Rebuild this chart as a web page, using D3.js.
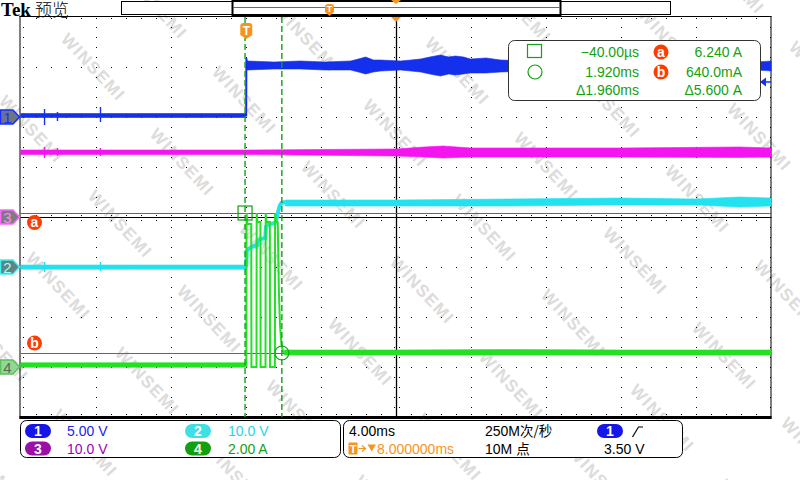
<!DOCTYPE html>
<html><head><meta charset="utf-8">
<script src="https://cdn.jsdelivr.net/npm/d3@7"></script>
<style>body{margin:0;background:#fff}svg{display:block}</style>
</head><body>
<svg id="c" width="800" height="480"></svg>
<script>
// ================= DATA =================
const timeDomain = [-12, 28];          // ms (4 ms/div, trigger at 0, 8 ms to centre)
const divDomain = [-4, 4];
const chNames = ["1", "2", "3", "4"];
const chPerDiv = [5, 10, 10, 2];        // units per division
const chOffsetDiv = [2, -1, 0, -3];     // channel position (div)
const chUnits = ["V", "V", "V", "A"];

// CH1 (V)
const ch1PreT = [-12, -6, 0.02];
const ch1PreLo = [-0.05, -0.05, -0.05];
const ch1PreHi = [0.35, 0.35, 0.35];
const ch1SpikeT = [-10.72, -10.03, -7.74];
const ch1SpikeLo = [-0.8, -0.4, -0.5];
const ch1SpikeHi = [0.8, 0.5, 1.0];
const ch1EdgeT = [0.02, 0.03, 0.06];
const ch1EdgeV = [0.1, 5.9, 5.3];
const ch1PostT = [0.04, 1.5, 2.91, 4.2, 5.58, 6.0, 6.38, 6.8, 7.18, 8.24, 8.8, 9.31, 9.8, 10.37, 10.8, 11.17, 11.6, 11.97, 12.8, 13.57, 15, 16.23, 17.5, 18.89, 20.2, 21.56, 23, 24.22, 25.3, 26.35, 27.2, 28.0];
const ch1PostHi = [5.6, 5.5, 5.6, 5.5, 5.6, 5.8, 6.0, 5.7, 5.7, 5.6, 5.7, 5.8, 6.0, 6.2, 6.0, 6.1, 6.0, 5.8, 5.9, 5.7, 5.6, 5.6, 5.7, 5.6, 5.5, 5.5, 5.6, 5.5, 5.6, 5.6, 5.5, 5.6];
const ch1PostLo = [4.7, 4.8, 4.8, 4.7, 4.7, 4.5, 4.3, 4.5, 4.6, 4.7, 4.6, 4.5, 4.3, 4.1, 4.3, 4.2, 4.3, 4.4, 4.4, 4.5, 4.6, 4.6, 4.7, 4.7, 4.6, 4.7, 4.7, 4.7, 4.6, 4.6, 4.7, 4.6];

// CH3 (V)
const ch3T = [-12, 0, 8, 9.5, 10.5, 12, 20, 26.3, 28];
const ch3Hi = [13.4, 13.4, 13.6, 14.0, 14.2, 13.8, 13.8, 14.0, 13.8];
const ch3Lo = [12.5, 12.5, 12.2, 12.0, 11.8, 12.0, 12.0, 11.9, 12.0];
const ch3SpikeT = [-10.72, -10.03, -7.74];
const ch3SpikeLo = [11.8, 12.2, 12.2];
const ch3SpikeHi = [14.0, 13.8, 13.8];

// CH2 (V)
const ch2PreT = [-12, -6, 0.02];
const ch2PreLo = [-0.46, -0.46, -0.46];
const ch2PreHi = [0.4, 0.4, 0.4];
const ch2SpikeT = [-10.72, -7.74];
const ch2SpikeLo = [-1.0, -0.8];
const ch2SpikeHi = [1.0, 1.0];
const ch2TransT = [0.02, 0.05, 0.15, 0.29, 0.45, 0.60, 0.64, 0.80, 1.04, 1.07, 1.15, 1.30, 1.55, 1.62, 1.72, 1.80, 1.90, 2.10];
const ch2TransV = [0, 3.2, 3.6, 4.0, 4.2, 4.4, 5.2, 5.6, 5.8, 8.0, 8.4, 8.6, 8.8, 9.4, 11.0, 12.2, 12.8, 13.0];
const ch2PostT = [2.1, 8, 14, 20, 24, 26.3, 28];
const ch2PostHi = [13.4, 13.4, 13.6, 13.8, 13.6, 14.0, 13.8];
const ch2PostLo = [12.2, 12.2, 12.2, 12.4, 12.4, 12.0, 12.2];

// CH4 (A)
const ch4PreT = [-12, -6, 0.03];
const ch4PreLo = [-0.01, -0.01, -0.01];
const ch4PreHi = [0.17, 0.17, 0.17];
const ch4TransT = [0.03, 0.04, 0.08, 0.29, 0.30, 0.57, 0.58, 0.62, 0.78, 0.79, 1.05, 1.06, 1.10, 1.28, 1.29, 1.55, 1.56, 1.60, 1.70, 1.76, 1.82, 1.90, 1.98, 2.05];
const ch4TransV = [0.04, 6.16, 5.72, 5.72, 0.0, 0.0, 6.16, 5.8, 5.8, 0.0, 0.0, 6.16, 5.8, 5.8, 0.0, 0.0, 6.16, 5.84, 5.8, 3.1, 1.7, 0.9, 0.62, 0.58];
const ch4PostT = [2.05, 8, 14, 20, 28];
const ch4PostHi = [0.68, 0.68, 0.7, 0.68, 0.68];
const ch4PostLo = [0.48, 0.48, 0.48, 0.48, 0.48];

// Cursors
const cursorTimes = [-0.04, 1.92];        // ms
const cursorLevels = [6.16, 0.56];        // A (ch4), a / b
const triggerLevel = 3.5;                 // V ch1

// Readout texts
const readTime = ["\u221240.00\u00b5s", "1.920ms", "\u03941.960ms"];
const readLevel = ["6.240 A", "640.0mA", "\u03945.600 A"];
const chScaleText = ["5.00 V", "10.0 V", "10.0 V", "2.00 A"];
const timebaseText = "4.00ms";
const delayText = "8.000000ms";
const sampleLatin = ["250M", "10M "];
const sampleCJK = ["\u6b21/\u79d2", "\u70b9"];
const trigText = "3.50 V";
const titleText = ["Tek", "\u9884\u89c8"];
const watermarkText = "WINSEMI";

// ================= STYLE =================
const traceCol = ["#1430ec", "#22e2f0", "#f414f0", "#24e024"];
const textCol = ["#2222ee", "#2cd4e4", "#a000bc", "#14a014"];
const pillCol = ["#1616e8", "#3ee0e6", "#9c10a8", "#12a012"];
const markFill = ["#6c7585", "#5f8484", "#7c7c7c", "#92d892"];
const markStroke = ["#1a2cff", "#40f0f0", "#ff66ff", "#5cc05c"];
const markText = ["#1a2cff", "#a0ffff", "#ff88ff", "#5a6a5a"];
const curCol = "#14a014";
const orange = "#f7941d";
const aCol = "#ff3c00";
const FONT = "'Liberation Sans', Arial, sans-serif";
const CJK = "'Noto Sans CJK SC', sans-serif";

// ================= SCALES =================
const svg = d3.select("#c");
const x = d3.scaleLinear().domain(timeDomain).range([20.5, 771.5]);
const yDiv = d3.scaleLinear().domain(divDomain).range([417, 17]);
const yc = i => v => yDiv(chOffsetDiv[i] + v / chPerDiv[i]);
const X0 = x(timeDomain[0]), X1 = x(timeDomain[1]);
const Y0 = yDiv(divDomain[1]), Y1 = yDiv(divDomain[0]);

svg.append("rect").attr("width", 800).attr("height", 480).attr("fill", "#fff");

// ---- watermark ----
svg.append("clipPath").attr("id", "full").append("rect").attr("width", 800).attr("height", 480);
const wm = svg.append("g").attr("clip-path", "url(#full)").attr("fill", "#dcdcdc").attr("font-family", FONT)
  .attr("font-weight", "bold").attr("font-size", 17).attr("letter-spacing", 1.5);
for (let k = -12; k <= 12; k++) for (let j = -12; j <= 12; j++) {
  const sx = 60 + 89 * k + 62 * j, sy = 40 + 95 * k - 62 * j;
  if (sx < -100 || sx > 810 || sy < -100 || sy > 490) continue;
  wm.append("text").attr("transform", `translate(${sx},${sy}) rotate(47)`).text(watermarkText);
}

// ---- graticule ----
const grat = svg.append("g");
const xMajor = d3.range(0, 11).map(i => timeDomain[0] + i * 4);
const xMinor = d3.range(0, 51).map(i => timeDomain[0] + i * 0.8);
const yMajor = d3.range(-4, 5);
const yMinor = d3.range(0, 41).map(i => -4 + i * 0.2);
const dots = [];
xMajor.slice(1, -1).forEach(t => {
  if (t === 8) return;
  yMinor.slice(1, -1).forEach(v => dots.push([Math.round(x(t)), Math.round(yDiv(v))]));
});
yMajor.slice(1, -1).forEach(v => {
  if (v === 0) return;
  xMinor.slice(1, -1).forEach(t => dots.push([Math.round(x(t)), Math.round(yDiv(v))]));
});
yMinor.slice(1, -1).forEach(v => {
  const yy = Math.round(yDiv(v));
  dots.push([Math.round(X0) + 2, yy], [Math.round(X1) - 2, yy], [Math.round(x(8)) - 2, yy], [Math.round(x(8)) + 3, yy]);
});
xMinor.slice(1, -1).forEach(t => {
  const xx = Math.round(x(t));
  dots.push([xx, Math.round(Y0) + 1], [xx, Math.round(Y1) - 3], [xx, Math.round(yDiv(0)) - 2], [xx, Math.round(yDiv(0)) + 3]);
});
grat.selectAll("rect.d").data(dots).join("rect").attr("class", "d")
  .attr("x", d => d[0]).attr("y", d => d[1]).attr("width", 1).attr("height", 1).attr("fill", "#000");
grat.append("line").attr("x1", X0 - 0.5).attr("x2", X0 - 0.5).attr("y1", Y0 - 1).attr("y2", Y1 + 2).attr("stroke", "#000");
grat.append("line").attr("x1", X1 - 0.5).attr("x2", X1 - 0.5).attr("y1", Y0 - 1).attr("y2", Y1 + 2).attr("stroke", "#000");
grat.append("line").attr("x1", X0 - 1).attr("x2", X1).attr("y1", Y0 - 0.5).attr("y2", Y0 - 0.5).attr("stroke", "#000");
grat.append("rect").attr("x", X0 - 1).attr("y", Y1 - 1).attr("width", X1 - X0 + 1).attr("height", 3).attr("fill", "#000");
grat.append("line").attr("x1", x(8) + 0.5).attr("x2", x(8) + 0.5).attr("y1", Y0).attr("y2", Y1).attr("stroke", "#000").attr("stroke-width", 1.3);
grat.append("line").attr("x1", X0).attr("x2", X1).attr("y1", yDiv(0) + 0.5).attr("y2", yDiv(0) + 0.5).attr("stroke", "#000");

// ---- horizontal cursors ----
cursorLevels.forEach(v => {
  svg.append("line").attr("x1", X0).attr("x2", X1).attr("y1", yc(3)(v) + 0.5).attr("y2", yc(3)(v) + 0.5)
    .attr("stroke", curCol).attr("stroke-width", 1.2);
});

// ---- traces ----
svg.append("clipPath").attr("id", "pc").append("rect").attr("x", X0).attr("y", Y0).attr("width", X1 - X0).attr("height", Y1 - Y0);
const tr = svg.append("g").attr("clip-path", "url(#pc)");
function band(i, T, lo, hi) {
  const data = T.map((t, k) => ({ t, lo: lo[k], hi: hi[k] }));
  tr.append("path").attr("d", d3.area().x(d => x(d.t)).y0(d => yc(i)(d.lo)).y1(d => yc(i)(d.hi))(data))
    .attr("fill", traceCol[i]).attr("stroke", traceCol[i]).attr("stroke-width", 0.6);
}
function spikes(i, T, lo, hi) {
  T.forEach((t, k) => tr.append("line").attr("x1", x(t)).attr("x2", x(t))
    .attr("y1", yc(i)(lo[k])).attr("y2", yc(i)(hi[k])).attr("stroke", traceCol[i]).attr("stroke-width", 1.4));
}
function poly(i, T, V, w) {
  tr.append("path").attr("d", d3.line().x(d => x(d[0])).y(d => yc(i)(d[1]))(T.map((t, k) => [t, V[k]])))
    .attr("fill", "none").attr("stroke", traceCol[i]).attr("stroke-width", w).attr("stroke-linejoin", "miter");
}
band(2, ch3T, ch3Lo, ch3Hi); spikes(2, ch3SpikeT, ch3SpikeLo, ch3SpikeHi);
band(1, ch2PreT, ch2PreLo, ch2PreHi); spikes(1, ch2SpikeT, ch2SpikeLo, ch2SpikeHi);
poly(1, ch2TransT, ch2TransV, 4);
band(1, ch2PostT, ch2PostLo, ch2PostHi);
band(3, ch4PreT, ch4PreLo, ch4PreHi);
poly(3, ch4TransT, ch4TransV, 2);
band(3, ch4PostT, ch4PostLo, ch4PostHi);
band(0, ch1PreT, ch1PreLo, ch1PreHi); spikes(0, ch1SpikeT, ch1SpikeLo, ch1SpikeHi);
poly(0, ch1EdgeT, ch1EdgeV, 2);
band(0, ch1PostT, ch1PostLo, ch1PostHi);

// ---- vertical cursors ----
cursorTimes.forEach(t => {
  svg.append("line").attr("x1", x(t)).attr("x2", x(t)).attr("y1", Y0).attr("y2", Y1)
    .attr("stroke", curCol).attr("stroke-width", 1.4).attr("stroke-dasharray", "6,3");
});
svg.append("rect").attr("x", x(cursorTimes[0]) - 7).attr("y", yc(3)(cursorLevels[0]) - 7).attr("width", 14).attr("height", 14)
  .attr("fill", "none").attr("stroke", curCol).attr("stroke-width", 1.2);
svg.append("circle").attr("cx", x(cursorTimes[1])).attr("cy", yc(3)(cursorLevels[1])).attr("r", 7)
  .attr("fill", "none").attr("stroke", curCol).attr("stroke-width", 1.2);

// ---- cursor labels a / b ----
function abLabel(cx, cy, s) {
  svg.append("circle").attr("cx", cx).attr("cy", cy).attr("r", 7.5).attr("fill", aCol);
  svg.append("text").attr("x", cx).attr("y", cy + 4.5).attr("text-anchor", "middle").attr("fill", "#fff")
    .attr("font-family", FONT).attr("font-weight", "bold").attr("font-size", 14).text(s);
}
abLabel(34.5, yc(3)(cursorLevels[0]) + 9.5, "a");
abLabel(34.5, yc(3)(cursorLevels[1]) - 10, "b");

// ---- channel markers ----
[0, 2, 1, 3].forEach(i => {
  const yy = yc(i)(0);
  svg.append("path").attr("d", `M0.5,${yy - 7}H13L19.5,${yy}L13,${yy + 7}H0.5Z`)
    .attr("fill", markFill[i]).attr("stroke", markStroke[i]).attr("stroke-width", 1.5);
  svg.append("text").attr("x", 7.5).attr("y", yy + 5.5).attr("text-anchor", "middle").attr("fill", markText[i])
    .attr("font-family", FONT).attr("font-size", 15).text(chNames[i]);
});

// trigger level arrow (right)
const ty = yc(0)(triggerLevel);
svg.append("path").attr("d", `M760,${ty}L766,${ty - 4.5}V${ty + 4.5}Z`).attr("fill", traceCol[0]);
svg.append("line").attr("x1", 764).attr("x2", 771).attr("y1", ty).attr("y2", ty).attr("stroke", traceCol[0]).attr("stroke-width", 1.5);

// trigger position marker T
function tMark(cx, top, w, h, fs) {
  svg.append("path").attr("d", `M${cx - w / 2},${top + 3}Q${cx - w / 2},${top} ${cx - w / 2 + 3},${top}H${cx + w / 2 - 3}Q${cx + w / 2},${top} ${cx + w / 2},${top + 3}V${top + h - 4}L${cx},${top + h}L${cx - w / 2},${top + h - 4}Z`)
    .attr("fill", orange);
  svg.append("text").attr("x", cx).attr("y", top + h - 4.5).attr("text-anchor", "middle").attr("fill", "#fff")
    .attr("font-family", FONT).attr("font-weight", "bold").attr("font-size", fs).text("T");
}
tMark(x(0) + 0.5, 23, 12, 16, 12);
svg.append("path").attr("d", `M${x(8) - 5},${Y0}H${x(8) + 5}L${x(8)},${Y0 + 5}Z`).attr("fill", orange);

// ---- record view bar ----
svg.append("rect").attr("x", 121.5).attr("y", 1.5).attr("width", 549).attr("height", 13).attr("fill", "#fff").attr("stroke", "#000");
svg.append("rect").attr("x", 232.5).attr("y", 1).attr("width", 328).attr("height", 14).attr("fill", "none").attr("stroke", "#000").attr("stroke-width", 2);
svg.append("line").attr("x1", 233).attr("x2", 560).attr("y1", 7.5).attr("y2", 7.5).attr("stroke", "#20a020");
tMark(329.5, 4, 9, 12, 9);
svg.append("path").attr("d", `M${x(8) - 5},0H${x(8) + 5}L${x(8)},4Z`).attr("fill", orange);
svg.append("rect").attr("x", 0).attr("y", 0).attr("width", 72).attr("height", 16).attr("fill", "#fff");
svg.append("text").attr("x", 1).attr("y", 16).attr("font-family", "'Liberation Serif', serif").attr("font-weight", "bold")
  .attr("font-size", 19).attr("fill", "#000").text(titleText[0]);
svg.append("text").attr("x", 35).attr("y", 15.5).attr("font-family", CJK).attr("font-weight", 300)
  .attr("font-size", 17).attr("fill", "#000").text(titleText[1]);

// ---- cursor readout box ----
svg.append("rect").attr("x", 508.5).attr("y", 40.5).attr("width", 252).attr("height", 60).attr("rx", 6)
  .attr("fill", "#fff").attr("stroke", "#333");
svg.append("rect").attr("x", 527.5).attr("y", 44.5).attr("width", 14).attr("height", 13).attr("fill", "none").attr("stroke", curCol).attr("stroke-width", 1.2);
svg.append("circle").attr("cx", 535).attr("cy", 72).attr("r", 7).attr("fill", "none").attr("stroke", curCol).attr("stroke-width", 1.2);
const rdY = [57, 77, 95];
readTime.forEach((s, k) => svg.append("text").attr("x", 639).attr("y", rdY[k]).attr("text-anchor", "end")
  .attr("fill", curCol).attr("font-family", FONT).attr("font-size", 14).text(s));
readLevel.forEach((s, k) => svg.append("text").attr("x", 742).attr("y", rdY[k]).attr("text-anchor", "end")
  .attr("fill", curCol).attr("font-family", FONT).attr("font-size", 14).text(s));
abLabel(661, 52, "a");
abLabel(661, 72, "b");

// ---- bottom panels ----
svg.append("rect").attr("x", 20.5).attr("y", 420.5).attr("width", 320).attr("height", 37).attr("rx", 6).attr("fill", "#fff").attr("stroke", "#000");
svg.append("rect").attr("x", 343.5).attr("y", 420.5).attr("width", 339).attr("height", 37).attr("rx", 6).attr("fill", "#fff").attr("stroke", "#000");
function pill(cx, cy, col, s) {
  svg.append("rect").attr("x", cx - 13).attr("y", cy - 7).attr("width", 26).attr("height", 14).attr("rx", 7).attr("fill", col);
  svg.append("text").attr("x", cx).attr("y", cy + 5).attr("text-anchor", "middle").attr("fill", "#fff")
    .attr("font-family", FONT).attr("font-weight", "bold").attr("font-size", 14).text(s);
}
const pillPos = [[38, 431], [198, 431], [38, 448.5], [198, 448.5]];
const scaleTextPos = [[67, 436], [228, 436], [67, 453.5], [228, 453.5]];
[0, 1, 2, 3].forEach(i => {
  pill(pillPos[i][0], pillPos[i][1], pillCol[i], chNames[i]);
  svg.append("text").attr("x", scaleTextPos[i][0]).attr("y", scaleTextPos[i][1]).attr("fill", textCol[i])
    .attr("font-family", FONT).attr("font-size", 14).text(chScaleText[i]);
});
svg.append("text").attr("x", 349).attr("y", 436).attr("fill", "#000").attr("font-family", FONT).attr("font-size", 14).text(timebaseText);
svg.append("rect").attr("x", 348.5).attr("y", 442.5).attr("width", 9).attr("height", 12).attr("rx", 1).attr("fill", orange);
svg.append("text").attr("x", 353).attr("y", 452.5).attr("text-anchor", "middle").attr("fill", "#fff").attr("font-family", FONT)
  .attr("font-weight", "bold").attr("font-size", 11).text("T");
svg.append("path").attr("d", "M358.5,448.5H365M362,445.5L365.5,448.5L362,451.5").attr("fill", "none").attr("stroke", orange).attr("stroke-width", 1.2);
svg.append("path").attr("d", "M367.5,444.5H376L371.75,451.5Z").attr("fill", orange);
svg.append("text").attr("x", 377).attr("y", 453.5).attr("fill", orange).attr("font-family", FONT).attr("font-size", 14).text(delayText);
[436, 453.5].forEach((yy, k) => {
  const t = svg.append("text").attr("x", 485).attr("y", yy).attr("fill", "#000").attr("font-family", FONT).attr("font-size", 14);
  t.append("tspan").text(sampleLatin[k]);
  t.append("tspan").attr("font-family", CJK).attr("font-size", 13.5).text(sampleCJK[k]);
});
pill(610, 431, pillCol[0], chNames[0]);
svg.append("path").attr("d", "M632.5,437L638.5,427H643").attr("fill", "none").attr("stroke", "#000").attr("stroke-width", 1.2);
svg.append("text").attr("x", 604).attr("y", 453.5).attr("fill", "#000").attr("font-family", FONT).attr("font-size", 14).text(trigText);
</script>
</body></html>
